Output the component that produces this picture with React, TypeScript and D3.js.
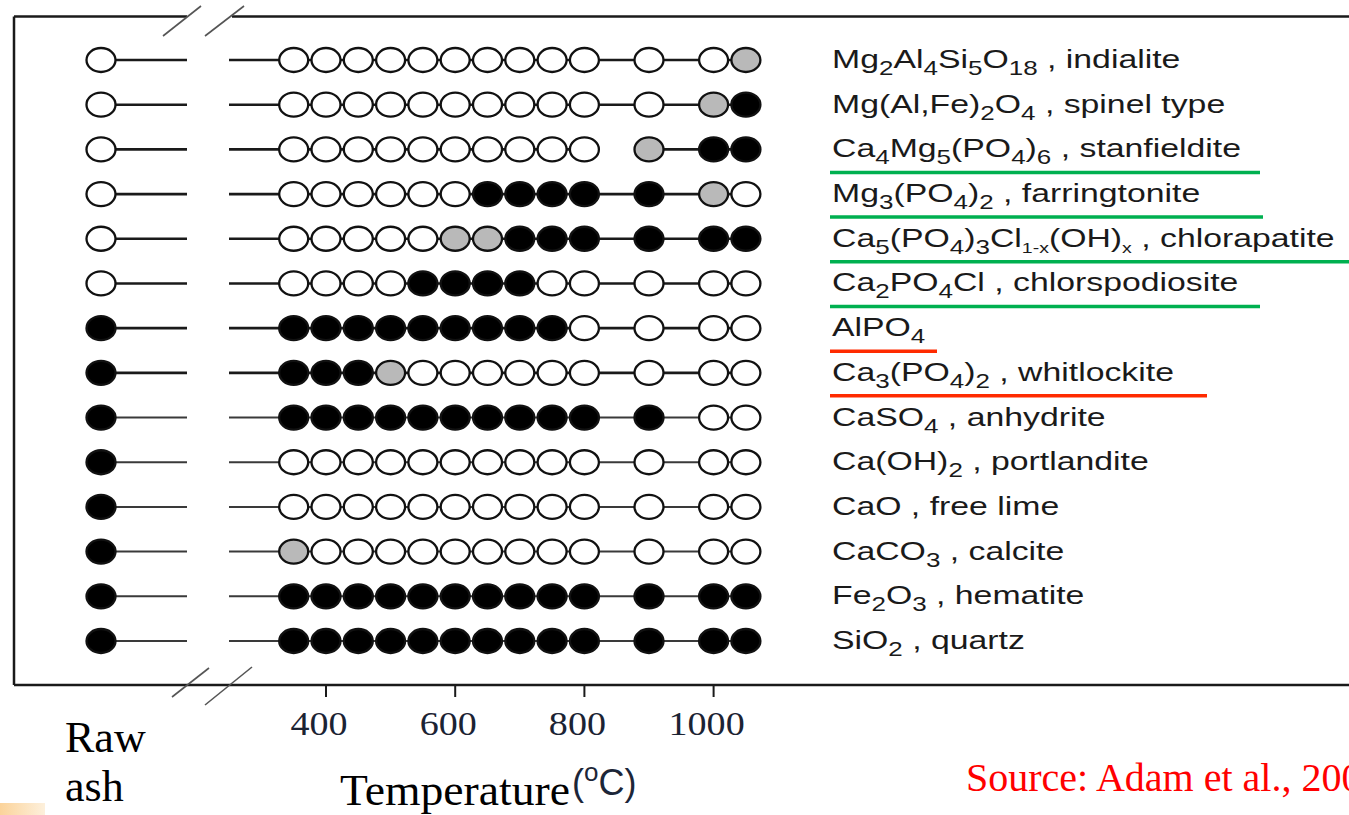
import React from 'react'
import * as d3 from 'd3'

// phase labels, markup: _{..} = subscript
const phases = [
  'Mg_{2}Al_{4}Si_{5}O_{18} , indialite',
  'Mg(Al,Fe)_{2}O_{4} , spinel type',
  'Ca_{4}Mg_{5}(PO_{4})_{6} , stanfieldite',
  'Mg_{3}(PO_{4})_{2} , farringtonite',
  'Ca_{5}(PO_{4})_{3}Cl_{1-x}(OH)_{x} , chlorapatite',
  'Ca_{2}PO_{4}Cl , chlorspodiosite',
  'AlPO_{4}',
  'Ca_{3}(PO_{4})_{2} , whitlockite',
  'CaSO_{4} , anhydrite',
  'Ca(OH)_{2} , portlandite',
  'CaO , free lime',
  'CaCO_{3} , calcite',
  'Fe_{2}O_{3} , hematite',
  'SiO_{2} , quartz',
]

// o = absent, g = minor, b = present
const rawAsh = ['o', 'o', 'o', 'o', 'o', 'o', 'b', 'b', 'b', 'b', 'b', 'b', 'b', 'b']

const temps = [350, 400, 450, 500, 550, 600, 650, 700, 750, 800, 900, 1000, 1050]

const states = [
  'oooooooooooog',
  'ooooooooooogb',
  'oooooooooogbb',
  'oooooobbbbbgo',
  'oooooggbbbbbb',
  'oooobbbbooooo',
  'bbbbbbbbboooo',
  'bbbgooooooooo',
  'bbbbbbbbbbboo',
  'ooooooooooooo',
  'ooooooooooooo',
  'goooooooooooo',
  'bbbbbbbbbbbbb',
  'bbbbbbbbbbbbb',
]

// no connector between these temperatures (row, from, to)
const gaps = [[2, 800, 900]]

const ticks = [400, 600, 800, 1000]

const underlineRows = [2, 3, 4, 5, 6, 7]
const underlineColors = ['#00b050', '#00b050', '#00b050', '#00b050', '#ff2a00', '#ff2a00']
const underlineEnds = [1260, 1263, 1349, 1260, 937, 1207]

const fills = { o: '#ffffff', g: '#b9b9b9', b: '#000000' }

function parseLabel(s) {
  return s.split(/(_\{[^}]*\})/).filter(p => p.length).map(p =>
    p.startsWith('_{') ? { t: p.slice(2, -1), sub: true } : { t: p, sub: false })
}

export default function App() {
  const W = 1349, H = 815
  const left = 14, top = 16.5, bottom = 685
  const rawX = 101
  const rx = 14.5, ry = 12

  const x = d3.scaleLinear().domain([400, 1000]).range([326, 713.6])
  const y = d3.scalePoint().domain(d3.range(phases.length)).range([60, 641])

  const lineCol = '#1a1a1a'

  return (
    <div style={{ position: 'fixed', left: 0, top: 0, width: W, height: H, overflow: 'hidden', background: '#fff' }}>
      <svg width={W} height={H}>
        <defs>
          <linearGradient id="corner" x1="0" x2="1" y1="0" y2="0">
            <stop offset="0" stopColor="#fbd39a" />
            <stop offset="1" stopColor="#fdf0dc" />
          </linearGradient>
        </defs>
        <rect x={0} y={803} width={45} height={12} fill="url(#corner)" />

        {/* frame with axis break */}
        <line x1={left} x2={left} y1={top} y2={bottom} stroke={lineCol} strokeWidth={2.5} />
        <line x1={left} x2={187} y1={top} y2={top} stroke={lineCol} strokeWidth={2.5} />
        <line x1={232} x2={W} y1={top} y2={top} stroke={lineCol} strokeWidth={2.5} />
        <line x1={left} x2={W} y1={bottom} y2={bottom} stroke={lineCol} strokeWidth={2.5} />
        <g stroke="#555" strokeWidth={1.6}>
          <line x1={163} y1={36} x2={201} y2={6} />
          <line x1={205} y1={36} x2={244} y2={6} />
          <line x1={172} y1={697} x2={209} y2={668} />
          <line x1={205} y1={705} x2={252} y2={667} />
        </g>

        {ticks.map(t => (
          <g key={t}>
            <line x1={x(t)} x2={x(t)} y1={bottom} y2={697} stroke={lineCol} strokeWidth={2} />
            <text transform={`translate(${x(t) - 7},735) scale(1.12,1)`} textAnchor="middle"
              fontFamily="Liberation Serif" fontSize={34} fill="#1b2333">{t}</text>
          </g>
        ))}

        {phases.map((p, i) => {
          const cy = y(i)
          const st = states[i]
          const lc = i < 8 ? lineCol : '#3a3a3a'
          const lw = i < 8 ? 2.6 : 2
          return (
            <g key={i}>
              <line x1={rawX} x2={187} y1={cy} y2={cy} stroke={lc} strokeWidth={lw} />
              <line x1={229} x2={x(temps[0])} y1={cy} y2={cy} stroke={lc} strokeWidth={lw} />
              {temps.slice(1).map((t, j) => {
                const prev = temps[j]
                if (gaps.some(g => g[0] === i && g[1] === prev && g[2] === t)) return null
                return <line key={t} x1={x(prev)} x2={x(t)} y1={cy} y2={cy} stroke={lc} strokeWidth={lw} />
              })}
              <ellipse cx={rawX} cy={cy} rx={rx} ry={ry} fill={fills[rawAsh[i]]} stroke="#111" strokeWidth={2.3} />
              {temps.map((t, j) => (
                <ellipse key={t} cx={x(t)} cy={cy} rx={rx} ry={ry} fill={fills[st[j]]} stroke="#111" strokeWidth={2.3} />
              ))}
              <text transform={`translate(832,${cy + 8}) scale(1.3,1)`} fontFamily="Liberation Sans"
                fontSize={26} fill="#1a1a1a">
                {parseLabel(p).map((s, k, arr) => {
                  const prevSub = k > 0 && arr[k - 1].sub
                  const small = s.t.includes('x')
                  const off = small ? 6 : 7
                  const dy = s.sub ? off : (prevSub ? -(arr[k - 1].t.includes('x') ? 6 : 7) : 0)
                  return (
                    <tspan key={k} dy={dy} fontSize={s.sub ? (small ? 15 : 20) : 26}>{s.t}</tspan>
                  )
                })}
              </text>
            </g>
          )
        })}

        {underlineRows.map((r, k) => (
          <line key={r} x1={830} x2={underlineEnds[k]} y1={y(r) + 23} y2={y(r) + 23}
            stroke={underlineColors[k]} strokeWidth={3.5} />
        ))}

        <text x={65} y={752} fontFamily="Liberation Serif" fontSize={44} fill="#000">Raw</text>
        <text x={65} y={801} fontFamily="Liberation Serif" fontSize={44} fill="#000">ash</text>
        <text x={340} y={805} fontFamily="Liberation Serif" fontSize={44} fill="#000"
          textLength={230} lengthAdjust="spacingAndGlyphs">Temperature</text>
        <text x={572} y={795} fontFamily="Liberation Sans" fontSize={36} fill="#1c2638">
          (<tspan dy={-14} fontSize={26}>o</tspan><tspan dy={14}>C)</tspan>
        </text>
        <text x={966} y={791} fontFamily="Liberation Serif" fontSize={40} fill="#ff0000">Source: Adam et al., 2009</text>
      </svg>
    </div>
  )
}
